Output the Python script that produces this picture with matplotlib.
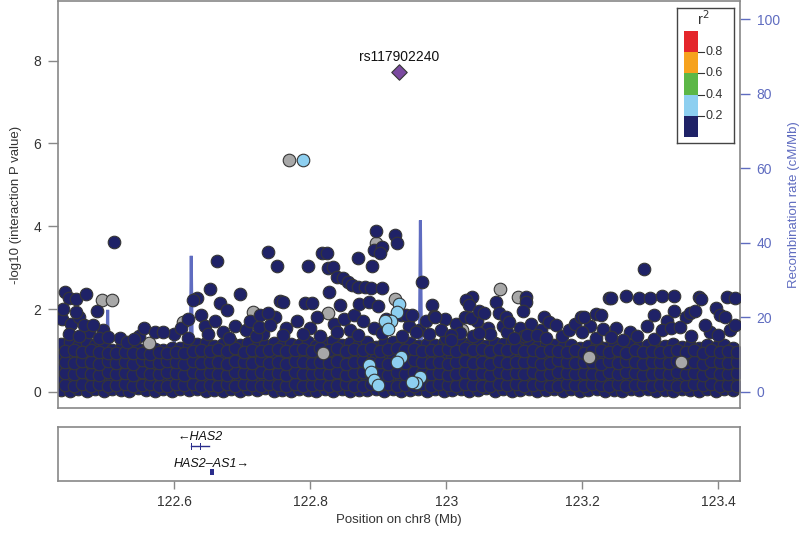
import numpy as np
import matplotlib
matplotlib.use('Agg')
import matplotlib.pyplot as plt
from matplotlib.patches import Rectangle

plt.rcParams['font.family'] = ['Liberation Sans', 'DejaVu Sans']

# lead SNP
lead_name = 'rs117902240'
lead_pos = 122.930
lead_logp = 7.73

# SNPs with no LD information (grey)
grey_pos = [122.768, 122.493, 122.509, 122.613, 122.563, 122.716, 122.897, 122.925,
            122.826, 123.079, 123.105, 123.023, 123.210, 123.345, 122.818]
grey_logp = [5.60, 2.22, 2.22, 1.69, 1.18, 1.93, 3.60, 2.25,
             1.91, 2.49, 2.29, 1.50, 0.85, 0.72, 0.95]

# r2 0.2-0.4 (light blue)
lb_pos = [122.789, 122.930, 122.927, 122.919, 122.910, 122.914, 122.934, 122.928,
          122.887, 122.889, 122.894, 122.900, 122.962, 122.956, 122.950]
lb_logp = [5.60, 2.13, 1.93, 1.71, 1.71, 1.52, 0.85, 0.72,
           0.65, 0.48, 0.29, 0.17, 0.36, 0.22, 0.24]

# r2 < 0.2 (navy), points standing out above the dense band
navy_left_pos = [122.512, 122.440, 122.445, 122.456, 122.470, 122.437, 122.487, 122.455,
                 122.467, 122.481, 122.502, 122.556, 122.541, 122.572, 122.584,
                 122.663, 122.738, 122.751, 122.653, 122.697, 122.634, 122.628, 122.755,
                 122.760, 122.726, 122.738, 122.725, 122.741, 122.667, 122.678]
navy_left_logp = [3.62, 2.42, 2.27, 2.25, 2.37, 2.00, 1.96, 1.93,
                  1.62, 1.62, 1.33, 1.55, 1.28, 1.45, 1.45,
                  3.16, 3.38, 3.04, 2.49, 2.37, 2.27, 2.22, 2.20,
                  2.17, 1.86, 1.91, 1.57, 1.62, 2.15, 1.98]

navy_mid_pos = [122.897, 122.925, 122.928, 122.894, 122.905, 122.902, 122.817, 122.824,
                122.870, 122.796, 122.891, 122.826, 122.833, 122.840, 122.848, 122.855,
                122.862, 122.870, 122.880, 122.890, 122.905, 122.827, 122.965,
                122.792, 122.802, 122.843, 122.872, 122.887, 122.899, 122.979, 122.982,
                123.038, 123.029, 123.073, 122.934, 122.941, 122.950,
                123.117, 123.117, 123.113, 123.034, 122.984, 123.028, 123.037, 123.078,
                123.088, 123.092, 123.144, 123.151, 123.161, 123.048, 123.056, 122.993,
                123.007, 123.007, 123.048, 123.100, 123.119, 123.133, 123.146]
navy_mid_logp = [3.89, 3.79, 3.60, 3.43, 3.50, 3.36, 3.36, 3.36,
                 3.24, 3.04, 3.04, 2.99, 3.02, 2.78, 2.75, 2.66,
                 2.58, 2.54, 2.54, 2.51, 2.51, 2.42, 2.66,
                 2.15, 2.15, 2.10, 2.13, 2.17, 2.08, 2.10, 1.84,
                 2.29, 2.22, 2.17, 1.86, 1.86, 1.86,
                 2.29, 2.17, 1.96, 2.10, 1.81, 1.81, 1.79, 1.91,
                 1.81, 1.69, 1.81, 1.69, 1.62, 1.96, 1.91, 1.50,
                 1.38, 1.26, 1.43, 1.31, 1.38, 1.38, 1.31]

navy_right_pos = [123.291, 123.239, 123.243, 123.264, 123.284, 123.300, 123.318, 123.335,
                  123.371, 123.375, 123.413, 123.425,
                  123.190, 123.198, 123.202, 123.220, 123.228, 123.306, 123.335, 123.352,
                  123.359, 123.366, 123.397, 123.403, 123.410,
                  123.199, 123.231, 123.243, 123.281, 123.306, 123.318, 123.330, 123.344,
                  123.381, 123.425]
navy_right_logp = [2.97, 2.27, 2.27, 2.32, 2.27, 2.27, 2.32, 2.32,
                   2.29, 2.25, 2.29, 2.27,
                   1.64, 1.81, 1.81, 1.88, 1.86, 1.86, 1.96, 1.81,
                   1.91, 1.96, 2.03, 1.86, 1.81,
                   1.45, 1.52, 1.33, 1.35, 1.28, 1.50, 1.55, 1.57,
                   1.62, 1.62]

# navy SNPs just above the band
navy_upper_pos = [122.435, 122.448, 122.460, 122.475, 122.495, 122.520, 122.530, 122.548,
                  122.600, 122.610, 122.620, 122.640, 122.645, 122.660, 122.672, 122.690,
                  122.705, 122.712, 122.730, 122.748, 122.765, 122.780, 122.800, 122.810,
                  122.835, 122.850, 122.858, 122.865, 122.878, 122.893, 122.912, 122.945,
                  122.960, 122.970, 122.998, 123.015, 123.045, 123.062, 123.083, 123.108,
                  123.125, 123.170, 123.180, 123.212, 123.250, 123.270, 123.295, 123.325,
                  123.388, 123.418,
                  122.790, 122.815, 122.840, 122.870, 122.905, 122.935, 122.955, 122.975,
                  123.000, 123.020, 123.040, 123.065, 123.090, 123.115, 123.140, 122.680,
                  122.720, 122.650, 122.620, 122.760, 122.445, 122.460, 122.490, 123.220,
                  123.260, 123.360, 123.400]
navy_upper_logp = [1.75, 1.65, 1.80, 1.45, 1.50, 1.30, 1.20, 1.35,
                   1.40, 1.55, 1.75, 1.85, 1.60, 1.70, 1.45, 1.60,
                   1.50, 1.70, 1.40, 1.80, 1.55, 1.70, 1.55, 1.80,
                   1.65, 1.75, 1.50, 1.85, 1.70, 1.55, 1.75, 1.60,
                   1.50, 1.70, 1.75, 1.65, 1.70, 1.55, 1.60, 1.55,
                   1.65, 1.35, 1.50, 1.60, 1.55, 1.45, 1.60, 1.70,
                   1.45, 1.50,
                   1.40, 1.35, 1.45, 1.38, 1.42, 1.35, 1.45, 1.40,
                   1.30, 1.42, 1.35, 1.40, 1.45, 1.35, 1.50, 1.30,
                   1.35, 1.40, 1.30, 1.38, 1.40, 1.35, 1.30, 1.30,
                   1.25, 1.35, 1.38]

# the dense band of non-significant navy SNPs
band_pos = [122.433, 122.446, 122.458, 122.471, 122.483, 122.496, 122.508, 122.521, 122.533, 122.546,
            122.558, 122.571, 122.583, 122.596, 122.608, 122.621, 122.633, 122.646, 122.658, 122.671,
            122.683, 122.696, 122.708, 122.721, 122.733, 122.746, 122.758, 122.771, 122.783, 122.796,
            122.808, 122.821, 122.833, 122.846, 122.858, 122.871, 122.883, 122.896, 122.908, 122.921,
            122.933, 122.946, 122.958, 122.971, 122.983, 122.996, 123.008, 123.021, 123.033, 123.046,
            123.058, 123.071, 123.083, 123.096, 123.108, 123.121, 123.133, 123.146, 123.158, 123.171,
            123.183, 123.196, 123.208, 123.221, 123.233, 123.246, 123.258, 123.271, 123.283, 123.296,
            123.308, 123.321, 123.333, 123.346, 123.358, 123.371, 123.383, 123.396, 123.408, 123.421]
band_row1 = [0.05, 0.02, 0.08, 0.03, 0.06, 0.01, 0.07, 0.04, 0.02, 0.09,
             0.05, 0.03, 0.07, 0.02, 0.06, 0.04, 0.08, 0.01, 0.05, 0.03,
             0.07, 0.02, 0.06, 0.04, 0.09, 0.03, 0.05, 0.02, 0.07, 0.04,
             0.01, 0.06, 0.03, 0.08, 0.02, 0.05, 0.04, 0.07, 0.03, 0.06,
             0.02, 0.05, 0.08, 0.03, 0.06, 0.01, 0.04, 0.07, 0.02, 0.05,
             0.09, 0.03, 0.06, 0.02, 0.04, 0.07, 0.01, 0.05, 0.08, 0.03,
             0.06, 0.02, 0.04, 0.07, 0.03, 0.05, 0.01, 0.08, 0.04, 0.06,
             0.02, 0.05, 0.03, 0.07, 0.04, 0.02, 0.06, 0.03, 0.08, 0.05]
band_row2 = [0.31, 0.27, 0.35, 0.29, 0.33, 0.25, 0.30, 0.36, 0.28, 0.32,
             0.26, 0.34, 0.29, 0.31, 0.27, 0.35, 0.30, 0.28, 0.33, 0.26,
             0.32, 0.29, 0.36, 0.27, 0.31, 0.34, 0.28, 0.30, 0.25, 0.33,
             0.29, 0.35, 0.27, 0.31, 0.30, 0.26, 0.34, 0.28, 0.32, 0.29,
             0.27, 0.33, 0.30, 0.36, 0.28, 0.31, 0.25, 0.34, 0.29, 0.32,
             0.27, 0.30, 0.35, 0.28, 0.33, 0.26, 0.31, 0.29, 0.34, 0.27,
             0.32, 0.30, 0.28, 0.35, 0.26, 0.31, 0.33, 0.29, 0.27, 0.34,
             0.30, 0.28, 0.32, 0.26, 0.35, 0.29, 0.31, 0.27, 0.33, 0.30]
band_row3 = [0.57, 0.61, 0.54, 0.59, 0.63, 0.56, 0.60, 0.53, 0.58, 0.62,
             0.55, 0.59, 0.64, 0.57, 0.52, 0.60, 0.58, 0.63, 0.55, 0.61,
             0.56, 0.59, 0.54, 0.62, 0.57, 0.60, 0.65, 0.55, 0.58, 0.61,
             0.53, 0.59, 0.62, 0.56, 0.60, 0.57, 0.54, 0.63, 0.58, 0.61,
             0.55, 0.60, 0.57, 0.52, 0.62, 0.59, 0.56, 0.64, 0.58, 0.53,
             0.61, 0.57, 0.60, 0.55, 0.63, 0.58, 0.54, 0.61, 0.56, 0.59,
             0.62, 0.57, 0.53, 0.60, 0.58, 0.64, 0.55, 0.61, 0.57, 0.59,
             0.54, 0.62, 0.58, 0.60, 0.56, 0.63, 0.57, 0.52, 0.61, 0.58]
band_row4 = [0.86, 0.82, 0.89, 0.84, 0.80, 0.87, 0.83, 0.85, 0.81, 0.88,
             0.84, 0.79, 0.86, 0.82, 0.90, 0.85, 0.83, 0.87, 0.80, 0.84,
             0.88, 0.83, 0.86, 0.81, 0.85, 0.89, 0.82, 0.87, 0.84, 0.80,
             0.86, 0.83, 0.88, 0.85, 0.81, 0.87, 0.84, 0.82, 0.89, 0.86,
             0.83, 0.80, 0.87, 0.85, 0.82, 0.88, 0.84, 0.86, 0.81, 0.89,
             0.85, 0.82, 0.87, 0.84, 0.80, 0.86, 0.83, 0.88, 0.85, 0.81,
             0.87, 0.84, 0.82, 0.89, 0.85, 0.83, 0.86, 0.80, 0.88, 0.84,
             0.82, 0.87, 0.85, 0.81, 0.86, 0.84, 0.89, 0.83, 0.80, 0.87]
band_row5 = [1.15, 1.20, 1.10, 1.18, 1.12, 1.08,
             1.02, 1.06, 0.99, 1.04, 0.98, 1.03, 1.01, 1.07, 1.05, 1.12,
             1.15, 1.18, 1.10, 1.16, 1.20, 1.12, 1.17, 1.08, 1.14, 1.19, 1.11, 1.16,
             1.14, 1.20, 1.10, 1.18, 1.22, 1.12, 1.19, 1.15, 1.21, 1.09, 1.17, 1.20,
             1.13, 1.18, 1.11, 1.16, 1.14,
             1.17, 1.12, 1.20, 1.14, 1.18, 1.10, 1.19, 1.15, 1.21, 1.11, 1.16, 1.09,
             1.14, 1.12,
             1.08, 1.13, 1.05, 1.10, 1.15, 1.07, 1.12, 1.04, 1.14, 1.09, 1.12, 1.06,
             1.10, 1.15, 1.08, 1.11, 1.05, 1.13, 1.09, 1.12, 1.07]

# second, staggered set of band SNPs
band_pos_b = [122.439, 122.452, 122.464, 122.477, 122.489, 122.502, 122.514, 122.527, 122.539, 122.552,
              122.564, 122.577, 122.589, 122.602, 122.614, 122.627, 122.639, 122.652, 122.664, 122.677,
              122.689, 122.702, 122.714, 122.727, 122.739, 122.752, 122.764, 122.777, 122.789, 122.802,
              122.814, 122.827, 122.839, 122.852, 122.864, 122.877, 122.889, 122.902, 122.914, 122.927,
              122.939, 122.952, 122.964, 122.977, 122.989, 123.002, 123.014, 123.027, 123.039, 123.052,
              123.064, 123.077, 123.089, 123.102, 123.114, 123.127, 123.139, 123.152, 123.164, 123.177,
              123.189, 123.202, 123.214, 123.227, 123.239, 123.252, 123.264, 123.277, 123.289, 123.302,
              123.314, 123.327, 123.339, 123.352, 123.364, 123.377, 123.389, 123.402, 123.414, 123.427]
band_row_b1 = [0.17, 0.14, 0.19, 0.15, 0.18, 0.13, 0.16, 0.20, 0.14, 0.17,
               0.19, 0.15, 0.13, 0.18, 0.16, 0.20, 0.14, 0.17, 0.15, 0.19,
               0.13, 0.18, 0.16, 0.14, 0.20, 0.17, 0.15, 0.19, 0.13, 0.16,
               0.18, 0.14, 0.17, 0.20, 0.15, 0.13, 0.19, 0.16, 0.18, 0.14,
               0.17, 0.15, 0.20, 0.13, 0.18, 0.16, 0.14, 0.19, 0.17, 0.15,
               0.13, 0.18, 0.16, 0.20, 0.14, 0.17, 0.19, 0.15, 0.13, 0.18,
               0.16, 0.14, 0.20, 0.17, 0.15, 0.19, 0.13, 0.16, 0.18, 0.14,
               0.17, 0.20, 0.15, 0.13, 0.19, 0.16, 0.18, 0.14, 0.17, 0.15]
band_row_b2 = [0.45, 0.42, 0.48, 0.44, 0.41, 0.47, 0.43, 0.46, 0.40, 0.49,
               0.44, 0.42, 0.47, 0.45, 0.41, 0.48, 0.43, 0.46, 0.44, 0.40,
               0.47, 0.45, 0.42, 0.49, 0.43, 0.46, 0.41, 0.48, 0.44, 0.42,
               0.46, 0.43, 0.47, 0.40, 0.45, 0.48, 0.42, 0.44, 0.41, 0.47,
               0.43, 0.49, 0.45, 0.42, 0.46, 0.40, 0.44, 0.47, 0.43, 0.45,
               0.41, 0.48, 0.42, 0.46, 0.44, 0.47, 0.40, 0.43, 0.49, 0.45,
               0.42, 0.46, 0.44, 0.41, 0.48, 0.43, 0.47, 0.45, 0.40, 0.44,
               0.46, 0.42, 0.48, 0.43, 0.45, 0.41, 0.47, 0.44, 0.42, 0.46]
band_row_b3 = [0.72, 0.69, 0.75, 0.71, 0.68, 0.74, 0.70, 0.73, 0.67, 0.76,
               0.71, 0.69, 0.74, 0.72, 0.68, 0.75, 0.70, 0.73, 0.71, 0.67,
               0.74, 0.72, 0.69, 0.76, 0.70, 0.73, 0.68, 0.75, 0.71, 0.69,
               0.73, 0.70, 0.74, 0.67, 0.72, 0.75, 0.69, 0.71, 0.68, 0.74,
               0.70, 0.76, 0.72, 0.69, 0.73, 0.67, 0.71, 0.74, 0.70, 0.72,
               0.68, 0.75, 0.69, 0.73, 0.71, 0.74, 0.67, 0.70, 0.76, 0.72,
               0.69, 0.73, 0.71, 0.68, 0.75, 0.70, 0.74, 0.72, 0.67, 0.71,
               0.73, 0.69, 0.75, 0.70, 0.72, 0.68, 0.74, 0.71, 0.69, 0.73]
band_row_b4 = [0.99, 1.02, 0.96, 1.00, 0.97, 0.95,
               0.94, 0.96, 0.93, 0.95, 0.92, 0.96, 0.94, 0.97, 0.95, 0.99,
               1.01, 0.98, 1.03, 0.99, 1.05, 0.97, 1.02, 0.98, 1.00, 1.04, 0.98, 1.01,
               1.03, 0.99, 1.05, 1.01, 1.06, 0.98, 1.04, 1.00, 1.07, 0.99, 1.03, 1.05,
               1.00, 1.04, 0.98, 1.02, 1.01,
               1.03, 0.99, 1.05, 1.01, 1.04, 0.98, 1.03, 1.00, 1.06, 0.99, 1.02, 0.97,
               1.01, 0.99,
               0.97, 1.00, 0.95, 0.99, 1.02, 0.96, 1.00, 0.95, 1.01, 0.97, 0.99, 0.96,
               0.98, 1.01, 0.97, 1.00, 0.95, 1.00, 0.97, 0.99, 0.96]

# recombination rate (cM/Mb)
rec_pos = [122.430, 122.470, 122.500, 122.502, 122.504, 122.550, 122.598, 122.600, 122.602,
           122.623, 122.625, 122.627, 122.700, 122.750, 122.800, 122.850, 122.900, 122.960,
           122.962, 122.964, 123.000, 123.100, 123.200, 123.300, 123.430]
rec_rate = [0.5, 1.0, 0.8, 22.0, 1.2, 0.6, 1.0, 15.5, 1.0,
            0.8, 36.5, 1.0, 0.5, 1.2, 0.8, 0.5, 0.9, 1.5,
            46.0, 1.5, 0.7, 1.0, 0.6, 0.8, 0.5]

# genes
has2_start, has2_end = 122.6253, 122.6516
has2_exons = [122.6255, 122.6335, 122.6385, 122.6512]
as1_start, as1_end = 122.6525, 122.6578

# r2 legend
r2_edges = [0.0, 0.2, 0.4, 0.6, 0.8, 1.0]
r2_colors = ['#1f2267', '#8dcff0', '#5cb746', '#f6a21e', '#e4262b']
r2_ticks = [0.2, 0.4, 0.6, 0.8]

NAVY = r2_colors[0]
LIGHT = r2_colors[1]
GREY = '#a8a8a8'
EDGE = '#363636'
RECOMB = '#5f6cc0'
AXCOL = '#888888'
TXT = '#333333'

xlim = (122.429, 123.432)
ylim = (-0.39, 9.44)

fig = plt.figure(figsize=(8, 5.36), dpi=100)
ax = fig.add_axes([0.0725, 0.2388, 0.8525, 0.7593])
rax = ax.twinx()
ax.set_zorder(rax.get_zorder() + 1)
ax.patch.set_visible(False)

# recombination rate behind the points
rax.plot(rec_pos, rec_rate, color=RECOMB, lw=2.2, solid_joinstyle='miter')
rax.set_ylim(ylim[0] * 100 / 9, ylim[1] * 100 / 9)
rax.set_yticks([0, 20, 40, 60, 80, 100])
rax.tick_params(axis='y', colors=RECOMB, labelsize=10, length=7, width=1, pad=5)
rax.set_ylabel('Recombination rate (cM/Mb)', color=RECOMB, fontsize=9.5, labelpad=6)
for s in rax.spines.values():
    s.set_visible(False)

kw = dict(s=82, linewidths=0.8, edgecolors=EDGE)
band_y = np.concatenate([band_row1, band_row2, band_row3, band_row4, band_row5,
                         band_row_b1, band_row_b2, band_row_b3, band_row_b4])
band_x = np.concatenate([np.tile(band_pos, 5), np.tile(band_pos_b, 4)])
ax.scatter(band_x, band_y, color=NAVY, zorder=2, **kw)
ax.scatter(grey_pos, grey_logp, color=GREY, zorder=3, **kw)
ax.scatter(navy_upper_pos, navy_upper_logp, color=NAVY, zorder=4, **kw)
ax.scatter(navy_left_pos + navy_mid_pos + navy_right_pos,
           navy_left_logp + navy_mid_logp + navy_right_logp, color=NAVY, zorder=4, **kw)
ax.scatter(lb_pos, lb_logp, color=LIGHT, zorder=5, **kw)
ax.scatter([lead_pos], [lead_logp], marker='D', s=62, color='#7b4aa0',
           linewidths=0.8, edgecolors=EDGE, zorder=6)
ax.annotate(lead_name, (lead_pos, lead_logp), xytext=(0, 11), textcoords='offset points',
            ha='center', va='center', fontsize=10, color='#111111')

ax.set_xlim(*xlim)
ax.set_ylim(*ylim)
ax.set_xticks([])
ax.set_yticks([0, 2, 4, 6, 8])
ax.tick_params(axis='y', colors=TXT, labelsize=10, length=7, width=1, pad=5)
ax.tick_params(axis='y', color=AXCOL)
ax.set_ylabel('-log10 (interaction P value)', color=TXT, fontsize=9.5, labelpad=8)
for s in ax.spines.values():
    s.set_color(AXCOL)
    s.set_linewidth(1.2)

# r2 legend box
lax = fig.add_axes([677 / 800, 1 - 143 / 536, 57 / 800, 135 / 536])
lax.set_xlim(0, 57)
lax.set_ylim(-0.057, 1.217)
lax.bar(14, np.diff(r2_edges), bottom=r2_edges[:-1], width=14, color=r2_colors,
        linewidth=0)
for v in r2_ticks:
    lax.plot([21, 27], [v, v], color=TXT, lw=0.8)
    lax.text(28.5, v, f'{v}', va='center', ha='left', fontsize=9, color=TXT)
lax.text(26, 1.12, 'r$^2$', ha='center', va='center', fontsize=10.5, color=TXT)
lax.set_xticks([])
lax.set_yticks([])
for s in lax.spines.values():
    s.set_color('#444444')
    s.set_linewidth(1)

# gene panel
gax = fig.add_axes([0.0725, 1 - 481 / 536, 0.8525, 54 / 536])
gax.set_xlim(*xlim)
gax.set_ylim(0, 1)
gcol = '#2a2d8c'
gax.plot([has2_start, has2_end], [0.64, 0.64], color=gcol, lw=1)
for e in has2_exons:
    gax.add_patch(Rectangle((e - 0.0006, 0.57), 0.0012, 0.14, color=gcol, lw=0))
gax.text((has2_start + has2_end) / 2, 0.82, '\u2190HAS2', style='italic', ha='center',
         va='center', fontsize=9, color='#111111')
gax.add_patch(Rectangle((as1_start, 0.11), as1_end - as1_start, 0.11, color=gcol, lw=0))
gax.text((as1_start + as1_end) / 2, 0.32, 'HAS2\u2013AS1\u2192', style='italic', ha='center',
         va='center', fontsize=9, color='#111111')
gax.set_yticks([])
gax.set_xticks([122.6, 122.8, 123.0, 123.2, 123.4])
gax.set_xticklabels(['122.6', '122.8', '123', '123.2', '123.4'])
gax.tick_params(axis='x', colors=TXT, labelsize=10, length=6, width=1, pad=4)
gax.tick_params(axis='x', color=AXCOL)
gax.set_xlabel('Position on chr8 (Mb)', color=TXT, fontsize=9.5, labelpad=4)
for s in gax.spines.values():
    s.set_color(AXCOL)
    s.set_linewidth(1.2)

fig.savefig('out.png', dpi=100)
